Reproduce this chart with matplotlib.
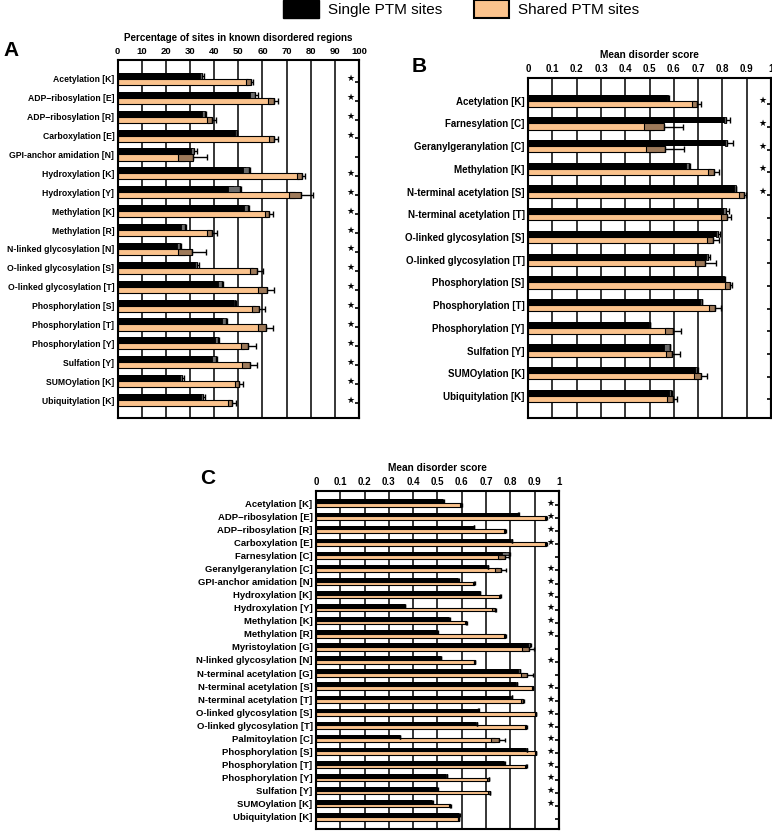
import numpy as np
import matplotlib
matplotlib.use("Agg")
import matplotlib.pyplot as plt
from matplotlib.patches import Patch

plt.rcParams["font.family"] = ["Liberation Sans", "DejaVu Sans"]
plt.rcParams["font.weight"] = "bold"

ORANGE = "#FBC38D"
BOX_SHARED = "#9E7A5A"
BOX_SINGLE = "#6B6B6B"

# Panel A: percentage of sites in known disordered regions
labels_a = ["Acetylation [K]", "ADP\u2212ribosylation [E]", "ADP\u2212ribosylation [R]",
            "Carboxylation [E]", "GPI-anchor amidation [N]", "Hydroxylation [K]",
            "Hydroxylation [Y]", "Methylation [K]", "Methylation [R]",
            "N-linked glycosylation [N]", "O-linked glycosylation [S]",
            "O-linked glycosylation [T]", "Phosphorylation [S]", "Phosphorylation [T]",
            "Phosphorylation [Y]", "Sulfation [Y]", "SUMOylation [K]", "Ubiquitylation [K]"]
single_a = [34.5, 56, 35.5, 49, 31, 53.2, 48.3, 53.3, 27, 25.2, 32.5, 42.5, 48.3, 44, 41, 39.8, 26.3, 35]
single_a_box = [0.5, 1, 0.5, 0.3, 0.7, 1.4, 2.4, 0.8, 0.7, 0.5, 0.5, 0.8, 0.3, 0.7, 0.5, 0.8, 0.5, 0.5]
single_a_err = [1.2, 2, 1, 0.6, 2, 1.8, 2.6, 1, 1.2, 1, 1.1, 1.3, 0.6, 1.2, 1, 1.5, 1, 1]
shared_a = [54.2, 63.6, 38, 63.8, 28, 75.2, 73.4, 62, 38.2, 28, 56.2, 60, 57, 59.7, 52.5, 53.1, 49.4, 46.7]
shared_a_box = [1, 1.2, 1.2, 1, 3.1, 1, 2.6, 0.8, 1, 2.9, 1.4, 1.7, 1.5, 1.7, 1.6, 1.7, 0.9, 0.8]
shared_a_err = [2, 3, 2.7, 2.8, 9, 2.4, 7.4, 2.2, 3, 8.6, 3.9, 4.9, 4, 4.8, 4.7, 4.8, 2.7, 2.3]
stars_a = [1, 1, 1, 1, 0, 1, 1, 1, 1, 1, 1, 1, 1, 1, 1, 1, 1, 1]

# Panel B: mean disorder score
labels_b = ["Acetylation [K]", "Farnesylation [C]", "Geranylgeranylation [C]", "Methylation [K]",
            "N-terminal acetylation [S]", "N-terminal acetylation [T]",
            "O-linked glycosylation [S]", "O-linked glycosylation [T]", "Phosphorylation [S]",
            "Phosphorylation [T]", "Phosphorylation [Y]", "Sulfation [Y]", "SUMOylation [K]",
            "Ubiquitylation [K]"]
single_b = [0.574, 0.81, 0.815, 0.655, 0.851, 0.81, 0.778, 0.738, 0.805, 0.711, 0.499, 0.571, 0.69, 0.584]
single_b_box = [0.003, 0.005, 0.005, 0.007, 0.003, 0.006, 0.004, 0.004, 0.003, 0.003, 0.002, 0.012, 0.005, 0.005]
single_b_err = [0.005, 0.02, 0.03, 0.012, 0.005, 0.015, 0.01, 0.01, 0.005, 0.004, 0.003, 0.015, 0.01, 0.009]
shared_b = [0.686, 0.519, 0.525, 0.752, 0.88, 0.805, 0.747, 0.708, 0.82, 0.756, 0.579, 0.58, 0.696, 0.584]
shared_b_box = [0.01, 0.04, 0.039, 0.012, 0.01, 0.012, 0.012, 0.019, 0.01, 0.012, 0.016, 0.014, 0.014, 0.011]
shared_b_err = [0.024, 0.119, 0.116, 0.033, 0.018, 0.032, 0.038, 0.065, 0.021, 0.037, 0.051, 0.047, 0.042, 0.027]
stars_b = [1, 1, 1, 1, 1, 0, 0, 0, 0, 0, 0, 0, 0, 0]

# Panel C: mean disorder score, all PTM types
labels_c = ["Acetylation [K]", "ADP\u2212ribosylation [E]", "ADP\u2212ribosylation [R]",
            "Carboxylation [E]", "Farnesylation [C]", "Geranylgeranylation [C]",
            "GPI-anchor amidation [N]", "Hydroxylation [K]", "Hydroxylation [Y]",
            "Methylation [K]", "Methylation [R]", "Myristoylation [G]",
            "N-linked glycosylation [N]", "N-terminal acetylation [G]",
            "N-terminal acetylation [S]", "N-terminal acetylation [T]",
            "O-linked glycosylation [S]", "O-linked glycosylation [T]", "Palmitoylation [C]",
            "Phosphorylation [S]", "Phosphorylation [T]", "Phosphorylation [Y]",
            "Sulfation [Y]", "SUMOylation [K]", "Ubiquitylation [K]"]
single_c = [0.523, 0.832, 0.649, 0.804, 0.78, 0.705, 0.585, 0.674, 0.366, 0.548, 0.499, 0.877,
            0.514, 0.836, 0.825, 0.804, 0.667, 0.66, 0.345, 0.866, 0.774, 0.537, 0.499, 0.478, 0.589]
single_c_box = [0.001, 0.001, 0.001, 0.001, 0.015, 0.002, 0.001, 0.001, 0.001, 0.001, 0.001, 0.004,
                0.001, 0.003, 0.001, 0.001, 0.001, 0.001, 0.001, 0.001, 0.001, 0.001, 0.001, 0.001, 0.001]
single_c_err = [0.002, 0.002, 0.002, 0.002, 0.02, 0.004, 0.002, 0.002, 0.002, 0.002, 0.002, 0.008,
                0.002, 0.005, 0.002, 0.002, 0.002, 0.002, 0.002, 0.002, 0.002, 0.002, 0.002, 0.002, 0.002]
shared_c = [0.596, 0.945, 0.777, 0.945, 0.763, 0.748, 0.649, 0.756, 0.73, 0.616, 0.777, 0.862,
            0.651, 0.856, 0.89, 0.848, 0.903, 0.863, 0.737, 0.903, 0.863, 0.708, 0.712, 0.551, 0.585]
shared_c_box = [0.002, 0.002, 0.002, 0.002, 0.014, 0.012, 0.002, 0.002, 0.007, 0.002, 0.002, 0.014,
                0.002, 0.014, 0.003, 0.005, 0.002, 0.002, 0.015, 0.002, 0.002, 0.004, 0.004, 0.002, 0.002]
shared_c_err = [0.004, 0.004, 0.004, 0.004, 0.03, 0.032, 0.004, 0.004, 0.01, 0.004, 0.004, 0.035,
                0.004, 0.037, 0.005, 0.008, 0.004, 0.004, 0.04, 0.004, 0.004, 0.006, 0.006, 0.004, 0.004]
stars_c = [1, 1, 1, 1, 0, 1, 1, 1, 1, 1, 1, 0, 1, 0, 1, 1, 1, 1, 1, 1, 1, 1, 1, 1, 0]

ticks_pct = list(range(0, 101, 10))
ticks_score = [round(0.1 * k, 1) for k in range(11)]
ticklabels_score = ["0"] + [f"{t:.1f}" for t in ticks_score[1:-1]] + ["1"]


def draw_panel(ax, labels, s, s_box, s_err, sh, sh_box, sh_err, stars,
               xmax, ticks, ticklabels, title, bar_h, ylim, capsize, fs_lab, fs_tick):
    y = np.arange(len(labels))
    s, s_box, s_err = map(np.asarray, (s, s_box, s_err))
    sh, sh_box, sh_err = map(np.asarray, (sh, sh_box, sh_err))

    # Stupci: črn zgoraj (posamezna mesta), oranžen spodaj (deljena mesta)
    ax.barh(y - bar_h / 2, s, height=bar_h, color="black", zorder=2)
    ax.barh(y + bar_h / 2, sh, height=bar_h, color=ORANGE, edgecolor="black",
            linewidth=0.8, zorder=2)

    # Škatla napake okoli konca stupca
    ax.barh(y - bar_h / 2, 2 * s_box, left=s - s_box, height=bar_h, color=BOX_SINGLE,
            edgecolor="black", linewidth=0.6, zorder=3)
    ax.barh(y + bar_h / 2, 2 * sh_box, left=sh - sh_box, height=bar_h, color=BOX_SHARED,
            edgecolor="black", linewidth=0.8, zorder=3)

    # Brki desno od škatle
    ax.errorbar(s + s_box, y - bar_h / 2, xerr=[np.zeros_like(s), s_err - s_box],
                fmt="none", ecolor="black", elinewidth=1.0, capsize=capsize, zorder=4)
    ax.errorbar(sh + sh_box, y + bar_h / 2, xerr=[np.zeros_like(sh), sh_err - sh_box],
                fmt="none", ecolor="black", elinewidth=1.0, capsize=capsize, zorder=4)

    for i, st in enumerate(stars):
        if st:
            ax.text(0.965 * xmax, i, "\u2605", ha="center", va="center",
                    fontsize=6.5, family="DejaVu Sans", zorder=5)

    ax.set_xlim(0, xmax)
    ax.set_ylim(*ylim)
    ax.set_xticks(ticks)
    ax.set_xticklabels(ticklabels, fontsize=fs_tick, fontweight="bold")
    ax.xaxis.tick_top()
    ax.tick_params(axis="x", length=0, pad=3)
    ax.set_yticks(y)
    ax.set_yticklabels(labels, fontsize=fs_lab, fontweight="bold")
    ax.tick_params(axis="y", length=0, pad=2.5)
    ax.grid(axis="x", color="black", linewidth=1.1)
    ax.set_axisbelow(True)
    for sp in ax.spines.values():
        sp.set_linewidth(1.5)
    ax.set_title(title, fontsize=fs_tick + 0.3, fontweight="bold", pad=4)

    sec = ax.secondary_yaxis("right")
    sec.set_yticks(y + 0.15)
    sec.set_yticklabels([])
    sec.tick_params(direction="in", length=3, width=1.2)
    sec.spines["right"].set_linewidth(1.5)


fig = plt.figure(figsize=(7.72, 8.31), dpi=100)

ax_a = fig.add_axes([0.1525, 0.497, 0.3125, 0.4308])
draw_panel(ax_a, labels_a, single_a, single_a_box, single_a_err,
           shared_a, shared_a_box, shared_a_err, stars_a,
           100, ticks_pct, [str(t) for t in ticks_pct],
           "Percentage of sites in known disordered regions", 0.32, (17.95, -1.0), 2, 6.2, 6.8)

ax_b = fig.add_axes([0.684, 0.497, 0.3148, 0.4091])
draw_panel(ax_b, labels_b, single_b, single_b_box, single_b_err,
           shared_b, shared_b_box, shared_b_err, stars_b,
           1, ticks_score, ticklabels_score,
           "Mean disorder score", 0.27, (13.97, -1.0), 2, 7, 7)

ax_c = fig.add_axes([0.4093, 0.0024, 0.3148, 0.4071])
draw_panel(ax_c, labels_c, single_c, single_c_box, single_c_err,
           shared_c, shared_c_box, shared_c_err, stars_c,
           1, ticks_score, ticklabels_score,
           "Mean disorder score", 0.28, (24.93, -0.95), 1.3, 6.8, 7)

fig.text(3 / 772, 1 - 50 / 831, "A", fontsize=15, fontweight="bold", ha="left", va="center")
fig.text(412 / 772, 1 - 67 / 831, "B", fontsize=15, fontweight="bold", ha="left", va="center")
fig.text(200 / 772, 1 - 479 / 831, "C", fontsize=15, fontweight="bold", ha="left", va="center")

handles = [Patch(facecolor="black", edgecolor="black"),
           Patch(facecolor=ORANGE, edgecolor="black", linewidth=1.5)]
fig.legend(handles, ["Single PTM sites", "Shared PTM sites"], loc="upper left",
           bbox_to_anchor=(283 / 772, 1.0), ncol=2, frameon=False,
           prop={"size": 11, "weight": "normal"}, handlelength=2.33, handleheight=1.47,
           handletextpad=0.6, columnspacing=2.07, borderpad=0, borderaxespad=0)

fig.savefig("out.png", dpi=100)
